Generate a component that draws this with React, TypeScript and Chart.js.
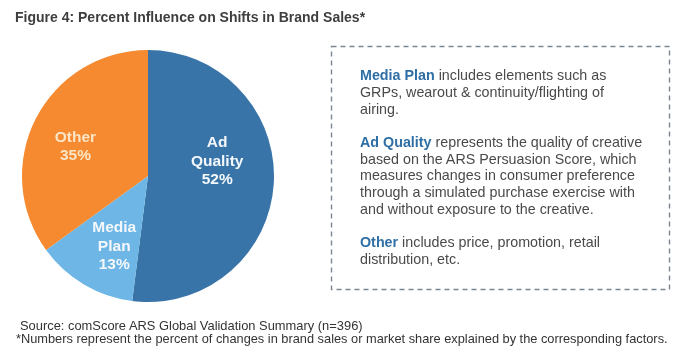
import React, { useEffect, useRef } from "react";
import { Chart, registerables } from "chart.js";

Chart.register(...registerables);

const categories = ["Ad Quality", "Media Plan", "Other"];
const shares = [52, 13, 35];
const sliceColors = ["#3874a8", "#6db6e6", "#f58a30"];
const labelColors = ["#f4f8fc", "#f4f8fc", "#fbe5c6"];

const titleText = "Figure 4: Percent Influence on Shifts in Brand Sales*";
const sourceText = "Source: comScore ARS Global Validation Summary (n=396)";
const footnoteText =
  "*Numbers represent the percent of changes in brand sales or market share explained by the corresponding factors.";

const notes = [
  { key: "Media Plan", lines: [" includes elements such as", "GRPs, wearout & continuity/flighting of", "airing."] },
  {
    key: "Ad Quality",
    lines: [
      " represents the quality of creative",
      "based on the ARS Persuasion Score, which",
      "measures changes in consumer preference",
      "through a simulated purchase exercise with",
      "and without exposure to the creative.",
    ],
  },
  { key: "Other", lines: [" includes price, promotion, retail", "distribution, etc."] },
];

// label placement tuning (layout only)
const labelPlace = [
  { f: 0.55, dx: 0, dy: -19 },
  { f: 0.62, dx: 6, dy: 3 },
  { f: 0.7, dx: 6, dy: 11 },
];

const FONT = "'Liberation Sans', Arial, sans-serif";

const sliceLabelPlugin = {
  id: "sliceLabels",
  afterDatasetsDraw(chart: any) {
    const ctx = chart.ctx;
    const meta = chart.getDatasetMeta(0);
    meta.data.forEach((arc: any, i: number) => {
      const p = arc.getProps(["x", "y", "startAngle", "endAngle", "outerRadius"], true);
      const mid = (p.startAngle + p.endAngle) / 2;
      const pl = labelPlace[i];
      const cx = p.x + Math.cos(mid) * p.outerRadius * pl.f + pl.dx;
      const cy = p.y + Math.sin(mid) * p.outerRadius * pl.f + pl.dy;
      const lines = [...categories[i].split(" "), `${shares[i]}%`];
      const lh = 18.5;
      ctx.save();
      ctx.font = `bold 15.5px ${FONT}`;
      ctx.fillStyle = labelColors[i];
      ctx.textAlign = "center";
      ctx.textBaseline = "middle";
      lines.forEach((ln, k) => {
        ctx.fillText(ln, cx, cy + (k - (lines.length - 1) / 2) * lh);
      });
      ctx.restore();
    });
  },
};

const boxPlugin = {
  id: "dashedBox",
  afterDraw(chart: any) {
    const ctx = chart.ctx;
    ctx.save();
    ctx.strokeStyle = "#7c8691";
    ctx.lineWidth = 1.4;
    ctx.setLineDash([5, 4]);
    ctx.strokeRect(331.5, 46.5, 338, 243);
    ctx.restore();
  },
};

export default function App() {
  const ref = useRef<HTMLCanvasElement>(null);
  useEffect(() => {
    if (!ref.current) return;
    const chart = new Chart(ref.current, {
      type: "pie",
      data: {
        labels: categories,
        datasets: [
          {
            data: shares,
            backgroundColor: sliceColors,
            borderWidth: 0,
          },
        ],
      },
      options: {
        animation: false,
        responsive: false,
        maintainAspectRatio: false,
        devicePixelRatio: 1,
        layout: { padding: { left: 22, top: 50, right: 412, bottom: 58 } },
        plugins: {
          legend: { display: false },
          tooltip: { enabled: false },
          title: { display: false },
        },
      },
      plugins: [sliceLabelPlugin, boxPlugin],
    });
    return () => chart.destroy();
  }, []);

  return (
    <div
      style={{
        position: "fixed",
        left: 0,
        top: 0,
        width: 686,
        height: 360,
        background: "#ffffff",
        fontFamily: FONT,
        overflow: "hidden",
      }}
    >
      <canvas ref={ref} width={686} height={360} style={{ position: "absolute", left: 0, top: 0 }} />
      <div
        style={{
          position: "absolute",
          left: 15,
          top: 8,
          fontSize: 14,
          lineHeight: "18px",
          fontWeight: "bold",
          color: "#3e3e3e",
          whiteSpace: "nowrap",
        }}
      >
        {titleText}
      </div>
      <div
        style={{
          position: "absolute",
          left: 360,
          top: 67,
          fontSize: 14.3,
          lineHeight: "16.8px",
          color: "#4a4a4a",
          whiteSpace: "nowrap",
        }}
      >
        {notes.map((n, i) => (
          <div key={i} style={{ marginBottom: i < notes.length - 1 ? 16.5 : 0 }}>
            <span style={{ color: "#2f6fa6", fontWeight: "bold" }}>{n.key}</span>
            {n.lines.map((l, k) => (
              <React.Fragment key={k}>
                {k > 0 ? <br /> : null}
                {l}
              </React.Fragment>
            ))}
          </div>
        ))}
      </div>
      <div
        style={{
          position: "absolute",
          left: 20,
          top: 319,
          fontSize: 12.9,
          lineHeight: "14px",
          color: "#333",
          whiteSpace: "nowrap",
        }}
      >
        {sourceText}
      </div>
      <div
        style={{
          position: "absolute",
          left: 16,
          top: 332,
          fontSize: 12.8,
          lineHeight: "14px",
          color: "#333",
          whiteSpace: "nowrap",
        }}
      >
        {footnoteText}
      </div>
    </div>
  );
}
